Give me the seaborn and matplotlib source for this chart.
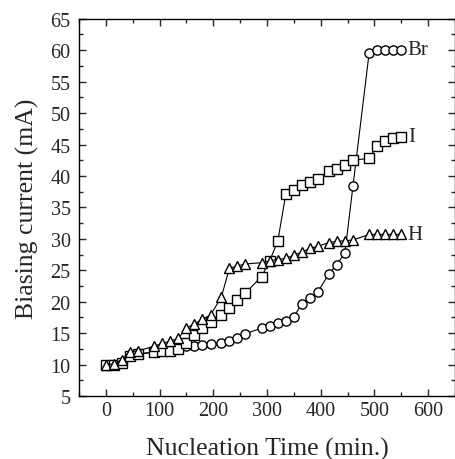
import numpy as np
import pandas as pd
import seaborn as sns
import matplotlib.pyplot as plt
from matplotlib.ticker import MultipleLocator

sns.set_style("ticks")
plt.rcParams['font.family'] = ['Liberation Serif', 'DejaVu Serif']

# nucleation time (min.)
time_min = [0, 15, 30, 45, 60, 90, 105, 120, 135, 150, 165, 180, 195, 215, 230, 245, 260,
            290, 305, 320, 335, 350, 365, 380, 395, 415, 430, 445, 460, 490, 505, 520, 535, 550]

# biasing current (mA)
br_current = [10.0, 10.0, 10.2, 11.4, 11.7, 12.0, 12.2, 12.3, 12.5, 12.9, 13.0, 13.1, 13.3, 13.4,
              13.7, 14.2, 14.9, 15.8, 16.2, 16.6, 16.9, 17.6, 19.7, 20.6, 21.6, 24.4, 25.9, 27.8,
              38.4, 59.5, 60.0, 60.1, 60.1, 60.1]
i_current = [10.0, 10.0, 10.2, 11.3, 11.6, 12.0, 12.1, 12.2, 12.4, 13.4, 14.7, 15.8, 16.7, 17.9,
             19.0, 20.2, 21.4, 24.0, 26.5, 29.6, 37.1, 37.7, 38.6, 39.1, 39.5, 40.8, 41.1, 41.7,
             42.5, 42.8, 44.8, 45.6, 46.0, 46.2]
h_current = [10.0, 10.1, 10.8, 12.0, 12.2, 12.9, 13.4, 13.7, 14.2, 15.8, 16.5, 17.2, 17.9, 20.7,
             25.3, 25.7, 26.0, 26.2, 26.5, 26.7, 26.9, 27.4, 27.9, 28.5, 28.8, 29.4, 29.6, 29.7,
             29.8, 30.7, 30.7, 30.7, 30.7, 30.7]

series = [("Br", br_current, "o"), ("I", i_current, "s"), ("H", h_current, "^")]

fig = plt.figure(figsize=(4.56, 4.60), dpi=100)
ax = fig.add_axes([0.173, 0.137, 0.825, 0.820])

for name, vals, mk in series:
    df = pd.DataFrame({"t": time_min, "I": vals})
    sns.lineplot(data=df, x="t", y="I", ax=ax, color="black", linewidth=0.8,
                 marker=mk, markersize=6.6, markerfacecolor="white",
                 markeredgecolor="black", markeredgewidth=1.0)
    ax.text(time_min[-1] + 12, vals[-1], name, fontsize=15, va="center", ha="left")

ax.set_xlim(-50, 650)
ax.set_ylim(5, 65)
ax.xaxis.set_major_locator(MultipleLocator(100))
ax.xaxis.set_minor_locator(MultipleLocator(50))
ax.yaxis.set_major_locator(MultipleLocator(5))
ax.yaxis.set_minor_locator(MultipleLocator(2.5))
ax.tick_params(which="both", direction="in", top=True, right=True, labelsize=14.5, width=1)
ax.tick_params(which="major", length=5)
ax.tick_params(which="minor", length=3)
ax.tick_params(axis="y", pad=6)
for s in ax.spines.values():
    s.set_linewidth(1)
    s.set_color("black")

ax.set_xlabel("Nucleation Time (min.)", fontsize=18.5, labelpad=12)
ax.set_ylabel("Biasing current (mA)", fontsize=18.5, labelpad=8)

fig.savefig("out.png", dpi=100)
